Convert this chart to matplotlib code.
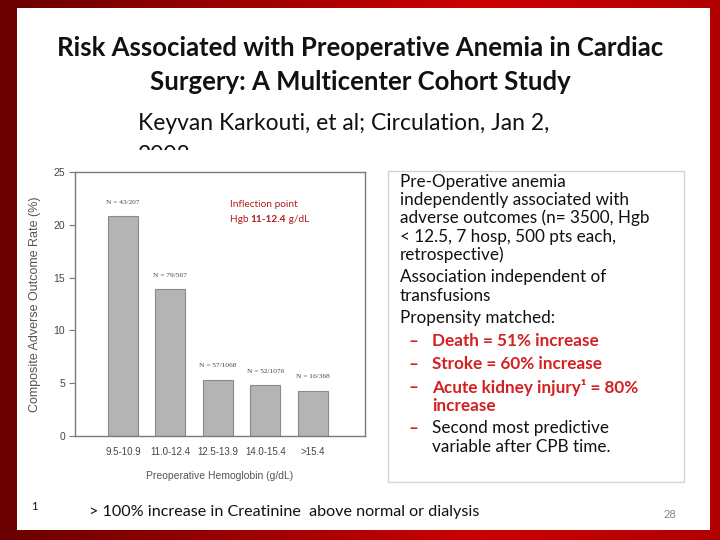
import numpy as np
import matplotlib
matplotlib.use("Agg")
import matplotlib.pyplot as plt
from matplotlib.patches import Rectangle
from matplotlib.colors import LinearSegmentedColormap

# data
hgb_bins = ["9.5-10.9", "11.0-12.4", "12.5-13.9", "14.0-15.4", ">15.4"]
outcome_rate = [20.8, 13.9, 5.3, 4.8, 4.3]
n_labels = ["N = 43/207", "N = 79/567", "N = 57/1068", "N = 52/1076", "N = 16/368"]

W, H = 720, 540
fig = plt.figure(figsize=(7.2, 5.4), dpi=100)

def fx(x):
    return x / W

def fy(y):
    return 1 - y / H

# red gradient frame
bg = fig.add_axes([0, 0, 1, 1], zorder=-10)
cmap = LinearSegmentedColormap.from_list("frame", ["#6a0000", "#9c0000", "#cc0000", "#b00000"])
grad = np.linspace(0, 1, 256).reshape(1, -1)
bg.imshow(grad, aspect="auto", cmap=cmap, extent=[0, 1, 0, 1])
bg.add_patch(Rectangle((fx(17), fy(530)), fx(710) - fx(17), fy(8) - fy(530),
                       facecolor="white", edgecolor="none"))
bg.set_xlim(0, 1)
bg.set_ylim(0, 1)
bg.axis("off")

font = "Lato"

fig.text(0.5, fy(48), "Risk Associated with Preoperative Anemia in Cardiac",
         ha="center", va="center", fontsize=18.5, fontweight="bold", family=font, color="#111111")
fig.text(0.5, fy(82), "Surgery: A Multicenter Cohort Study",
         ha="center", va="center", fontsize=18.5, fontweight="bold", family=font, color="#111111")
fig.text(fx(138), fy(124), "Keyvan Karkouti, et al; Circulation, Jan 2,",
         ha="left", va="center", fontsize=16.5, family=font, color="#111111")
fig.text(fx(138), fy(156), "2008", ha="left", va="center", fontsize=16.5, family=font, color="#111111")

# white patch of the pasted chart image hides most of the year
fig.patches.append(Rectangle((fx(30), fy(490)), fx(380) - fx(30), fy(150) - fy(490),
                             transform=fig.transFigure, facecolor="white", edgecolor="none", zorder=5))

# chart
ax = fig.add_axes([fx(75), fy(436), fx(365) - fx(75), fy(172) - fy(436)], zorder=6)
x = np.arange(len(hgb_bins))
bars = ax.bar(x, outcome_rate, width=0.63, color="#b4b4b4", edgecolor="#8a8a8a", linewidth=0.8)
ax.set_xlim(-1.01, 5.1)
ax.set_ylim(0, 25)
ax.set_yticks([0, 5, 10, 15, 20, 25])
ax.set_xticks(x)
ax.set_xticklabels(hgb_bins)
ax.tick_params(axis="x", length=0, pad=8, labelsize=7, labelcolor="#444444")
ax.tick_params(axis="y", length=4, width=0.8, color="#777777", pad=3, labelsize=7.5, labelcolor="#444444")
for s in ax.spines.values():
    s.set_color("#7a7a7a")
    s.set_linewidth(1.0)
ax.set_ylabel("Composite Adverse Outcome Rate (%)", fontsize=9, color="#555555", labelpad=9,
              family="Liberation Sans")
ax.set_xlabel("Preoperative Hemoglobin (g/dL)", fontsize=7.5, color="#555555", labelpad=10,
              family="Liberation Sans")
for lbl in ax.get_xticklabels() + ax.get_yticklabels():
    lbl.set_family("Liberation Sans")
for xi, v, t in zip(x, outcome_rate, n_labels):
    ax.text(xi, v + 1.1, t, ha="center", va="bottom", fontsize=5.3, family="Liberation Serif",
            color="#444444")

red_dark = "#b01c1c"
ax.text(2.25, 21.9, "Inflection point", ha="left", va="center", fontsize=7.3, family=font,
        color=red_dark)
t1 = ax.text(2.25, 20.1, "Hgb ", ha="left", va="bottom", fontsize=7.3, family=font, color=red_dark)
t2 = ax.annotate("11-12.4", xy=(1, 0), xycoords=t1, ha="left", va="bottom", fontsize=7.3,
                 family=font, fontweight="bold", color=red_dark)
ax.annotate(" g/dL", xy=(1, 0), xycoords=t2, ha="left", va="bottom", fontsize=7.3,
            family=font, color=red_dark)

# right text box
fig.patches.append(Rectangle((fx(388), fy(482)), fx(684) - fx(388), fy(171) - fy(482),
                             transform=fig.transFigure, facecolor="white", edgecolor="#d4d4d4",
                             linewidth=1, zorder=4))
body = 12.3
plain_lines = [
    (182, "Pre-Operative anemia"),
    (200, "independently associated with"),
    (218, "adverse outcomes (n= 3500, Hgb"),
    (237, "< 12.5, 7 hosp, 500 pts each,"),
    (255, "retrospective)"),
    (277, "Association independent of"),
    (296, "transfusions"),
    (318, "Propensity matched:"),
]
for yy, s in plain_lines:
    fig.text(fx(400), fy(yy), s, ha="left", va="center", fontsize=body, family=font,
             color="#111111", zorder=7)

red = "#d42020"
sub_lines = [
    (341, "Death = 51% increase", True, True),
    (364, "Stroke = 60% increase", True, True),
    (387, "Acute kidney injury\u00b9 = 80%", True, True),
    (406, "increase", True, False),
    (428, "Second most predictive", False, True),
    (447, "variable after CPB time.", False, False),
]
for yy, s, is_red, dash in sub_lines:
    if dash:
        fig.text(fx(409), fy(yy), "\u2013", ha="left", va="center", fontsize=body, family=font,
                 color=red, fontweight="bold", zorder=7)
    fig.text(fx(432), fy(yy), s, ha="left", va="center", fontsize=body, family=font,
             color=red if is_red else "#111111", fontweight="bold" if is_red else "normal", zorder=7)

# footnote and page number
fig.text(fx(31), fy(506), "1", ha="left", va="center", fontsize=8, family=font, color="#111111")
fig.text(fx(89), fy(512), "> 100% increase in Creatinine  above normal or dialysis",
         ha="left", va="center", fontsize=11.6, family=font, color="#111111")
fig.text(fx(670), fy(514), "28", ha="center", va="center", fontsize=8, family=font, color="#888888")

fig.savefig("out.png", dpi=100)
